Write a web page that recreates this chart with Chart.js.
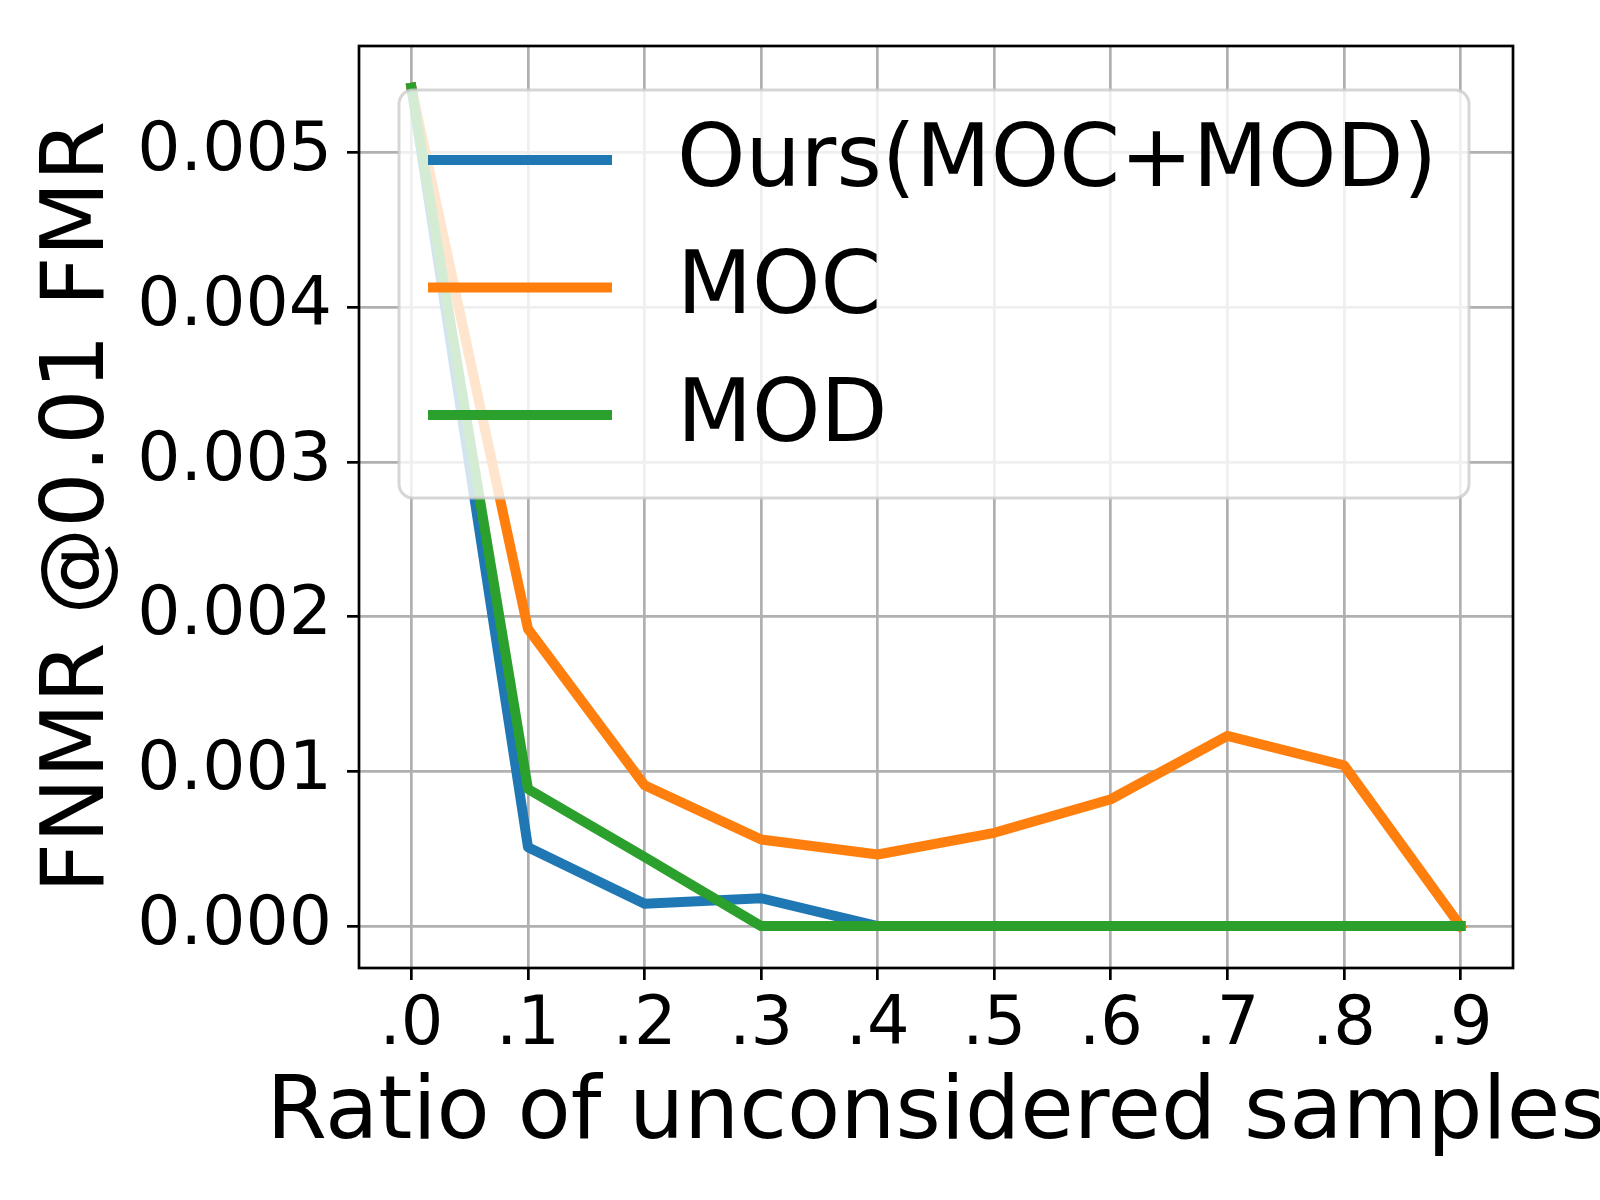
<!DOCTYPE html>
<html>
<head>
<meta charset="utf-8">
<script src="https://cdn.jsdelivr.net/npm/chart.js@4"></script>
<style>
  body { margin: 0; background: #fff; }
  #chart { display: block; }
</style>
</head>
<body>
<canvas id="chart" width="1600" height="1200"></canvas>
<script>
// Values
const ratios = [0.0, 0.1, 0.2, 0.3, 0.4, 0.5, 0.6, 0.7, 0.8, 0.9];
const xTickLabels = ['.0', '.1', '.2', '.3', '.4', '.5', '.6', '.7', '.8', '.9'];
const yTicks = [0, 0.001, 0.002, 0.003, 0.004, 0.005];
const yTickLabels = ['0.000', '0.001', '0.002', '0.003', '0.004', '0.005'];

const seriesNames = ['Ours(MOC+MOD)', 'MOC', 'MOD'];
const oursValues = [0.00542, 0.00051, 0.000145, 0.00018, 0, 0, 0, 0, 0, 0];
const mocValues = [0.00542, 0.00192, 0.00091, 0.00056, 0.000463, 0.000603, 0.00082, 0.00123, 0.00104, 0];
const modValues = [0.00542, 0.000886, 0.000447, 0, 0, 0, 0, 0, 0, 0];

const xTitle = 'Ratio of unconsidered samples';
const yTitle = 'FNMR @0.01 FMR';

const colors = ['#1f77b4', '#ff7f0e', '#2ca02c'];
const FONT = 'DejaVu Sans';

function toPoints(values) {
    return ratios.map((r, i) => ({ x: r, y: values[i] }));
}

// matplotlib style frame around the axes, plus the x title
// (drawn by hand so it is not squeezed to the axis width)
const framePlugin = {
    id: 'frame',
    afterDraw(chart) {
        const { ctx, chartArea: a } = chart;
        ctx.save();
        ctx.strokeStyle = '#000';
        ctx.lineWidth = 2.7;
        ctx.strokeRect(a.left, a.top, a.right - a.left, a.bottom - a.top);

        ctx.font = '87px "' + FONT + '"';
        ctx.fillStyle = '#000';
        ctx.textAlign = 'center';
        ctx.textBaseline = 'middle';
        ctx.fillText(xTitle, (a.left + a.right) / 2, a.bottom + 147);
        ctx.restore();
    }
};

// legend drawn inside the plot, over the lines
const legendPlugin = {
    id: 'boxLegend',
    afterDatasetsDraw(chart) {
        const { ctx, chartArea: a } = chart;
        const x = a.left + 40, y = a.top + 44, w = 1070, h = 408, r = 14;
        ctx.save();
        ctx.beginPath();
        ctx.roundRect(x, y, w, h, r);
        ctx.fillStyle = 'rgba(255,255,255,0.8)';
        ctx.fill();
        ctx.strokeStyle = 'rgba(204,204,204,0.8)';
        ctx.lineWidth = 3;
        ctx.stroke();

        ctx.font = '87px "' + FONT + '"';
        ctx.textBaseline = 'middle';
        ctx.textAlign = 'left';
        chart.data.datasets.forEach((ds, i) => {
            const rowY = y + 70 + i * 127.5;
            ctx.beginPath();
            ctx.moveTo(x + 29, rowY);
            ctx.lineTo(x + 213, rowY);
            ctx.strokeStyle = ds.borderColor;
            ctx.lineWidth = 10;
            ctx.lineCap = 'butt';
            ctx.stroke();
            ctx.fillStyle = '#000';
            ctx.fillText(ds.label, x + 278, rowY + 3);
        });
        ctx.restore();
    }
};

const valueSets = [oursValues, mocValues, modValues];

new Chart(document.getElementById('chart'), {
    type: 'line',
    data: {
        datasets: valueSets.map((vals, i) => ({
            label: seriesNames[i],
            data: toPoints(vals),
            borderColor: colors[i],
            backgroundColor: colors[i],
            borderWidth: 10,
            borderCapStyle: 'square',
            borderJoinStyle: 'round',
            pointRadius: 0,
            tension: 0,
            order: 3 - i
        }))
    },
    options: {
        responsive: false,
        animation: false,
        devicePixelRatio: 1,
        layout: { padding: { left: 0, top: 46, right: 87, bottom: 0 } },
        plugins: {
            legend: { display: false },
            tooltip: { enabled: false }
        },
        scales: {
            x: {
                type: 'linear',
                min: -0.045,
                max: 0.945,
                afterBuildTicks: s => { s.ticks = ratios.map(v => ({ value: v })); },
                afterFit: s => {
                    s.height = 232;
                    s.paddingLeft = 0; s.paddingRight = 0;
                },
                ticks: {
                    callback: (v, i) => xTickLabels[i],
                    font: { family: FONT, size: 67 },
                    color: '#000',
                    padding: 6,
                    maxRotation: 0,
                    autoSkip: false
                },
                grid: {
                    color: '#b0b0b0',
                    lineWidth: 2.7,
                    tickColor: '#000',
                    tickLength: 12,
                    tickWidth: 2.7
                },
                border: { display: false },
                title: { display: false }
            },
            y: {
                type: 'linear',
                min: -0.000271,
                max: 0.00569,
                afterBuildTicks: s => { s.ticks = yTicks.map(v => ({ value: v })); },
                afterFit: s => {
                    s.width = 359;
                    s.paddingTop = 0; s.paddingBottom = 0;
                },
                ticks: {
                    callback: (v, i) => yTickLabels[i],
                    font: { family: FONT, size: 68 },
                    color: '#000',
                    padding: 15
                },
                grid: {
                    color: '#b0b0b0',
                    lineWidth: 2.7,
                    tickColor: '#000',
                    tickLength: 12,
                    tickWidth: 2.7
                },
                border: { display: false },
                title: {
                    display: true,
                    text: yTitle,
                    font: { family: FONT, size: 87 },
                    color: '#000',
                    padding: { top: 28, bottom: 0 }
                }
            }
        }
    },
    plugins: [legendPlugin, framePlugin]
});
</script>
</body>
</html>
